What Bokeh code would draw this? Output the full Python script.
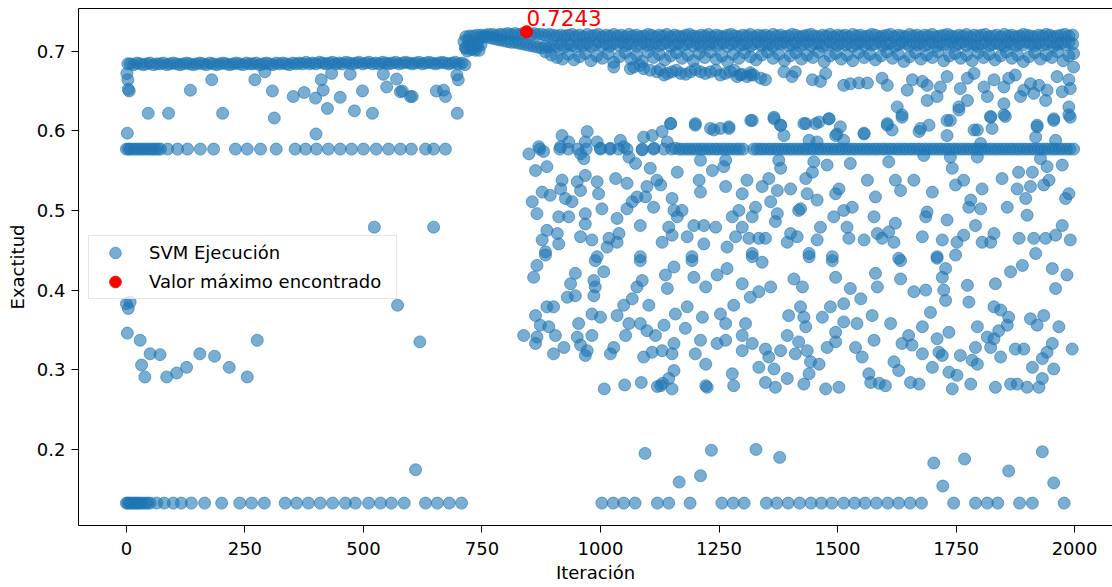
from bokeh.plotting import figure
from bokeh.models import ColumnDataSource, LinearAxis, FixedTicker, Legend, LegendItem
from bokeh.embed import file_html
from bokeh.resources import INLINE
from bokeh.core.properties import value

# ---------------- data ----------------
X_TICKS = [0, 250, 500, 750, 1000, 1250, 1500, 1750, 2000]
Y_TICKS = [0.2, 0.3, 0.4, 0.5, 0.6, 0.7]

MAX_ITER = 844
MAX_ACC = 0.7243

ROW_578 = 0.577
ROW_133 = 0.1326

# phase A (iterations 0-715): dense plateau near 0.684
A_BAND = [(3,0.684),(8,0.684),(15,0.683),(22,0.685),(29,0.684),(36,0.683),(43,0.684),(50,0.685),(57,0.683),(64,0.684),(71,0.684),
(78,0.685),(85,0.683),(92,0.684),(99,0.685),(106,0.684),(113,0.683),(120,0.684),(127,0.685),(134,0.684),(141,0.683),
(148,0.684),(155,0.685),(162,0.684),(169,0.683),(176,0.685),(183,0.684),(190,0.683),(197,0.684),(204,0.685),(211,0.684),
(218,0.683),(225,0.684),(232,0.685),(239,0.684),(246,0.683),(253,0.685),(260,0.684),(267,0.684),(274,0.685),(281,0.683),
(288,0.684),(295,0.685),(302,0.684),(309,0.683),(316,0.685),(323,0.684),(330,0.685),(337,0.684),(344,0.683),(351,0.685),
(358,0.684),(365,0.685),(372,0.684),(379,0.686),(386,0.684),(393,0.685),(400,0.684),(407,0.686),(414,0.685),(421,0.684),
(428,0.685),(435,0.686),(442,0.684),(449,0.685),(456,0.684),(463,0.686),(470,0.685),(477,0.684),(484,0.685),(491,0.686),
(498,0.684),(505,0.685),(512,0.686),(519,0.684),(526,0.685),(533,0.684),(540,0.686),(547,0.685),(554,0.684),(561,0.685),
(568,0.686),(575,0.684),(582,0.685),(589,0.686),(596,0.685),(603,0.684),(610,0.685),(617,0.686),(624,0.684),(631,0.685),
(638,0.686),(645,0.685),(652,0.684),(659,0.685),(666,0.686),(673,0.685),(680,0.684),(687,0.685),(694,0.686),(701,0.684),
(708,0.685),(714,0.683)]

A_SCATTER = [(0,0.383),(1,0.672),(2,0.597),(3,0.664),(4,0.652),(6,0.650),(4,0.377),(8,0.385),(2,0.346),(29,0.337),
(32,0.306),(39,0.291),(46,0.622),(50,0.320),(71,0.319),(85,0.291),(89,0.622),(106,0.296),(127,0.303),(135,0.651),
(155,0.320),(180,0.664),(186,0.317),(203,0.622),(217,0.303),(255,0.291),(271,0.664),(276,0.337),(292,0.674),(308,0.650),
(312,0.616),(352,0.643),(375,0.648),(399,0.641),(400,0.596),(411,0.664),(415,0.651),(424,0.628),(433,0.672),(451,0.642),
(472,0.671),(481,0.625),(498,0.650),(519,0.622),(523,0.479),(542,0.671),(549,0.655),(570,0.665),(572,0.381),(578,0.649),
(582,0.650),(599,0.643),(603,0.643),(610,0.1745),(619,0.335),(648,0.479),(654,0.650),(669,0.651),(673,0.643),(697,0.670),
(698,0.622),(700,0.664)]

A_ROW578_ITER = [0,4,8,13,19,24,30,35,40,46,51,56,61,67,72,87,108,129,156,184,230,255,283,316,356,378,401,426,451,475,
500,527,553,578,601,631,648,673]

A_ROW133_ITER = [0,3,6,10,14,18,22,26,30,35,40,45,50,64,80,99,116,137,165,201,239,264,291,335,359,384,409,435,462,483,
511,536,559,586,631,656,681,707]

# phase B (iterations 712-2000)
B_START = [(712,0.712),(715,0.704),(719,0.700),(722,0.714),(727,0.702),(731,0.709),(736,0.701),(740,0.706),(744,0.701),(748,0.708)]

B_BAND_ITER = [716,724,732,740,748,756,764,772,780,788,
796,804,812,820,828,836,844,852,860,868,
876,884,892,900,908,916,924,932,940,948,
956,964,972,980,988,996,1004,1012,1020,1028,
1036,1044,1052,1060,1068,1076,1084,1092,1100,1108,
1116,1124,1132,1140,1148,1156,1164,1172,1180,1188,
1196,1204,1212,1220,1228,1236,1244,1252,1260,1268,
1276,1284,1292,1300,1308,1316,1324,1332,1340,1348,
1356,1364,1372,1380,1388,1396,1404,1412,1420,1428,
1436,1444,1452,1460,1468,1476,1484,1492,1500,1508,
1516,1524,1532,1540,1548,1556,1564,1572,1580,1588,
1596,1604,1612,1620,1628,1636,1644,1652,1660,1668,
1676,1684,1692,1700,1708,1716,1724,1732,1740,1748,
1756,1764,1772,1780,1788,1796,1804,1812,1820,1828,
1836,1844,1852,1860,1868,1876,1884,1892,1900,1908,
1916,1924,1932,1940,1948,1956,1964,1972,1980,1988,
1996]

B_BAND_HI = [0.718,0.719,0.719,0.720,0.720,0.720,0.721,0.721,0.720,0.721,
0.721,0.722,0.721,0.722,0.721,0.722,0.722,0.721,0.722,0.721,
0.721,0.720,0.721,0.720,0.719,0.720,0.719,0.720,0.721,0.719,
0.720,0.718,0.721,0.719,0.720,0.721,0.718,0.720,0.719,0.721,
0.719,0.720,0.718,0.721,0.719,0.720,0.718,0.719,0.721,0.720,
0.718,0.720,0.719,0.721,0.718,0.720,0.719,0.718,0.720,0.721,
0.719,0.718,0.720,0.719,0.721,0.718,0.720,0.719,0.718,0.720,
0.721,0.719,0.718,0.720,0.719,0.721,0.718,0.720,0.719,0.720,
0.718,0.721,0.719,0.720,0.718,0.719,0.721,0.720,0.718,0.719,
0.720,0.721,0.719,0.718,0.720,0.719,0.721,0.718,0.720,0.719,
0.720,0.718,0.721,0.719,0.720,0.718,0.719,0.721,0.720,0.718,
0.719,0.720,0.721,0.718,0.720,0.719,0.718,0.721,0.719,0.720,
0.718,0.720,0.719,0.721,0.718,0.719,0.720,0.721,0.719,0.718,
0.720,0.719,0.721,0.718,0.720,0.719,0.720,0.721,0.718,0.719,
0.720,0.718,0.721,0.719,0.720,0.718,0.719,0.721,0.720,0.719,
0.718,0.720,0.719,0.721,0.720,0.718,0.719,0.720,0.721,0.719,
0.720]

B_BAND_LO = [0.704,0.708,0.703,0.709,0.717,0.718,0.717,0.716,0.715,0.714,
0.713,0.712,0.711,0.711,0.710,0.709,0.708,0.707,0.706,0.705,
0.704,0.706,0.705,0.707,0.706,0.708,0.705,0.709,0.707,0.706,
0.709,0.707,0.710,0.706,0.708,0.711,0.707,0.709,0.706,0.710,
0.708,0.711,0.707,0.709,0.710,0.706,0.709,0.711,0.707,0.708,
0.710,0.707,0.709,0.711,0.706,0.708,0.710,0.707,0.709,0.711,
0.707,0.709,0.706,0.710,0.708,0.711,0.707,0.709,0.710,0.706,
0.709,0.711,0.707,0.708,0.710,0.706,0.709,0.711,0.707,0.710,
0.708,0.706,0.710,0.709,0.711,0.707,0.708,0.710,0.706,0.709,
0.711,0.707,0.709,0.710,0.706,0.708,0.711,0.709,0.707,0.710,
0.708,0.710,0.706,0.709,0.711,0.707,0.710,0.708,0.709,0.711,
0.707,0.709,0.710,0.706,0.708,0.711,0.709,0.707,0.710,0.708,
0.710,0.707,0.709,0.711,0.706,0.710,0.708,0.709,0.711,0.707,
0.709,0.711,0.707,0.710,0.708,0.706,0.709,0.711,0.707,0.709,
0.710,0.708,0.706,0.711,0.709,0.707,0.710,0.708,0.711,0.709,
0.707,0.710,0.708,0.709,0.711,0.706,0.709,0.710,0.708,0.711,
0.709]

B_SUB = [(884,0.699),(896,0.695),(908,0.692),(920,0.690),(932,0.696),(944,0.689),(956,0.693),(968,0.697),(980,0.688),(992,0.694),
(1004,0.691),(1016,0.697),(1028,0.686),(1040,0.693),(1052,0.698),(1064,0.690),(1076,0.695),(1088,0.687),(1100,0.699),(1112,0.692),
(1124,0.696),(1136,0.689),(1148,0.694),(1160,0.698),(1172,0.691),(1184,0.695),(1196,0.688),(1208,0.697),(1220,0.692),(1232,0.699),
(1244,0.690),(1256,0.694),(1268,0.687),(1280,0.696),(1292,0.691),(1304,0.698),(1316,0.693),(1328,0.689),(1340,0.695),(1352,0.699),
(1364,0.691),(1376,0.696),(1388,0.688),(1400,0.694),(1412,0.698),(1424,0.690),(1436,0.695),(1448,0.692),(1460,0.699),(1472,0.687),
(1484,0.694),(1496,0.697),(1508,0.690),(1520,0.695),(1532,0.688),(1544,0.698),(1556,0.692),(1568,0.696),(1580,0.689),(1592,0.694),
(1604,0.699),(1616,0.691),(1628,0.696),(1640,0.687),(1652,0.693),(1664,0.698),(1676,0.690),(1688,0.695),(1700,0.692),(1712,0.699),
(1724,0.688),(1736,0.694),(1748,0.697),(1760,0.691),(1772,0.695),(1784,0.688),(1796,0.698),(1808,0.692),(1820,0.696),(1832,0.689),
(1844,0.694),(1856,0.699),(1868,0.691),(1880,0.695),(1892,0.687),(1904,0.693),(1916,0.698),(1928,0.690),(1940,0.695),(1952,0.692),
(1964,0.699),(1976,0.688),(1988,0.694),(1998,0.697)]

B_UPPER = [(1028,0.680),(1063,0.678),(1070,0.680),(1084,0.682),(1091,0.678),(1105,0.676),(1119,0.674),(1126,0.677),(1134,0.670),(1141,0.672),
(1151,0.674),(1160,0.676),(1169,0.672),(1180,0.671),(1190,0.674),(1200,0.677),(1211,0.674),(1221,0.672),(1232,0.674),(1243,0.676),
(1253,0.670),(1263,0.672),(1274,0.674),(1282,0.676),(1288,0.668),(1298,0.671),(1309,0.668),(1316,0.673),(1323,0.670),
(1148,0.609),(1200,0.607),(1232,0.603),(1253,0.603),(1271,0.605),
(1295,0.670),(1317,0.670),(1338,0.666),(1348,0.664),(1387,0.674),(1404,0.668),(1411,0.674),(1447,0.664),(1464,0.662),(1475,0.672),
(1513,0.657),(1527,0.659),(1545,0.660),(1563,0.660),(1594,0.666),(1605,0.657),(1647,0.651),(1658,0.664),(1679,0.662),(1689,0.657),
(1717,0.655),(1731,0.668),(1759,0.653),(1774,0.666),(1788,0.672),(1809,0.655),(1830,0.664),(1851,0.655),(1861,0.666),(1875,0.670),
(1893,0.651),(1907,0.659),(1925,0.657),(1942,0.651),(1963,0.668),(1974,0.649),(1991,0.653),(1998,0.680),(1988,0.664),
(1626,0.630),(1636,0.617),(1689,0.638),(1710,0.643),(1756,0.630),(1774,0.638),(1816,0.643),(1851,0.634),(1886,0.643),(1914,0.647),
(1939,0.638),(1988,0.630),(1991,0.617),(1320,0.613),(1366,0.617),(1380,0.607),(1429,0.609),(1454,0.609),(1482,0.615),(1499,0.596),
(1556,0.596),(1605,0.607),(1675,0.603),(1731,0.613),(1788,0.601),(1823,0.617),(1851,0.620),(1921,0.605),(1956,0.615)]

B_MID = [(849,0.571),(870,0.580),(880,0.574),(863,0.550),(887,0.555),(919,0.594),(916,0.580),(933,0.586),(972,0.599),(968,0.586),
(958,0.571),(965,0.565),(993,0.586),(1000,0.578),(1021,0.578),(1042,0.588),(1049,0.580),(1060,0.567),(1074,0.559),(1091,0.592),
(1109,0.594),(1088,0.576),(1113,0.578),(1130,0.599),(1148,0.609),(1141,0.586),(1158,0.578),(1105,0.553),(1162,0.548),
(919,0.538),(951,0.536),(968,0.544),(958,0.525),(993,0.536),(996,0.521),(1032,0.540),(1056,0.534),(1098,0.530),(1119,0.538),(1127,0.532),
(856,0.511),(866,0.496),(877,0.523),(894,0.519),(916,0.527),(926,0.515),(940,0.511),(912,0.492),(933,0.492),(968,0.496),
(968,0.483),(1003,0.502),(1035,0.490),(1067,0.511),(1077,0.517),(1095,0.517),(1056,0.502),(1084,0.481),(1112,0.504),(1151,0.515),
(1155,0.500),(1162,0.492),(887,0.475),(909,0.471),(877,0.463),(912,0.458),(884,0.448),(958,0.467),(982,0.463),(1018,0.465),
(1039,0.471),(1014,0.454),(1035,0.460),(993,0.442),(1084,0.442),(1130,0.460),(1144,0.479),(1151,0.469),
(884,0.444),(866,0.431),(859,0.416),(947,0.421),(937,0.408),(989,0.437),(1007,0.423),(986,0.412),(989,0.404),(986,0.393),
(930,0.391),(947,0.393),(1084,0.437),(1137,0.419),(1155,0.429),(1088,0.412),(1077,0.404),(1141,0.402),(1067,0.389),(1049,0.381),
(1102,0.381),(863,0.368),(887,0.379),(901,0.379),(873,0.356),(891,0.354),(838,0.343),(863,0.333),(866,0.341),(905,0.343),
(901,0.320),(923,0.328),(954,0.358),(982,0.370),(1000,0.366),(1035,0.368),(1060,0.358),(1084,0.358),(1098,0.349),(1116,0.343),
(1134,0.356),(1158,0.370),(951,0.341),(982,0.343),(958,0.331),(972,0.324),(968,0.318),(1053,0.343),(1028,0.328),(1021,0.320),
(1091,0.316),(1109,0.322),(1130,0.324),(1151,0.320),(1155,0.333),(1155,0.299),(1144,0.289),(1127,0.280),(1151,0.276),(1008,0.276),
(1051,0.281),(1086,0.284),(1120,0.279),(1131,0.283),(1222,0.280),(1588,0.283),
(1200,0.609),(1239,0.601),(1271,0.603),(1317,0.613),(1366,0.615),(1380,0.607),(1433,0.609),(1461,0.611),(1482,0.615),(1506,0.605),
(1496,0.594),(1556,0.597),(1387,0.594),(1440,0.588),(1457,0.586),(1513,0.588),
(1211,0.563),(1236,0.550),(1260,0.555),(1264,0.563),(1208,0.538),(1211,0.523),(1264,0.530),(1299,0.521),(1309,0.538),(1341,0.530),
(1355,0.540),(1373,0.525),(1380,0.553),(1376,0.563),(1401,0.527),(1433,0.540),(1450,0.561),(1447,0.548),(1478,0.557),(1527,0.559),
(1563,0.538),(1436,0.521),(1496,0.521),(1503,0.527),(1580,0.517),
(1172,0.500),(1197,0.481),(1218,0.481),(1243,0.479),(1183,0.467),(1218,0.458),(1193,0.442),(1278,0.492),(1292,0.500),(1299,0.479),
(1285,0.467),(1327,0.504),(1320,0.492),(1313,0.465),(1334,0.465),(1348,0.465),(1359,0.511),(1373,0.496),(1369,0.486),(1401,0.471),
(1394,0.460),(1418,0.500),(1422,0.502),(1415,0.467),(1457,0.513),(1464,0.479),(1457,0.463),(1492,0.492),(1513,0.500),(1531,0.504),
(1520,0.479),(1524,0.465),(1556,0.463),(1577,0.492),(1584,0.471),(1267,0.454),(1320,0.446),(1440,0.446),(1489,0.442),
(1193,0.437),(1197,0.416),(1222,0.404),(1246,0.419),(1267,0.427),(1320,0.442),(1341,0.435),(1299,0.408),(1316,0.391),(1334,0.398),
(1359,0.404),(1408,0.414),(1426,0.404),(1440,0.442),(1489,0.437),(1496,0.416),(1527,0.402),(1549,0.389),(1580,0.421),(1584,0.404),
(1183,0.379),(1215,0.366),(1253,0.370),(1264,0.358),(1281,0.381),(1306,0.358),(1397,0.368),(1422,0.379),(1429,0.366),(1433,0.354),
(1468,0.366),(1485,0.379),(1513,0.383),(1513,0.360),(1496,0.347),(1541,0.358),(1573,0.368),
(1179,0.352),(1211,0.337),(1200,0.320),(1246,0.333),(1264,0.337),(1299,0.343),(1299,0.324),(1320,0.333),(1348,0.326),(1355,0.316),
(1380,0.324),(1394,0.343),(1418,0.335),(1411,0.320),(1436,0.324),(1443,0.310),(1461,0.307),(1478,0.328),(1496,0.335),(1538,0.328),
(1552,0.316),(1577,0.337),(1222,0.307),(1278,0.295),(1281,0.280),(1334,0.303),(1366,0.301),(1348,0.284),(1369,0.278),(1394,0.289),
(1440,0.295),(1429,0.282),(1475,0.276),(1503,0.278),(1566,0.295),(1570,0.284),(1225,0.278),
(1605,0.609),(1615,0.601),(1636,0.620),(1672,0.599),(1693,0.607),(1731,0.594),(1738,0.613),(1756,0.626),(1795,0.601),(1826,0.603),
(1823,0.618),(1854,0.618),(1921,0.607),(1918,0.592),(1956,0.613),(1988,0.620),(1960,0.588),
(1608,0.561),(1682,0.569),(1738,0.567),(1742,0.553),(1795,0.567),(1802,0.584),(1928,0.565),(1942,0.555),(1974,0.557),(1882,0.548),
(1911,0.548),(1946,0.538),(1622,0.538),(1661,0.538),(1633,0.525),(1700,0.523),(1749,0.532),(1766,0.538),(1805,0.527),(1847,0.540),
(1879,0.527),(1907,0.530),(1897,0.515),(1988,0.521),(1981,0.515),(1781,0.513),(1777,0.504),(1802,0.502),(1858,0.504),(1689,0.498),
(1686,0.492),(1731,0.488),(1766,0.469),(1791,0.481),(1830,0.471),(1805,0.460),(1752,0.460),(1721,0.463),(1679,0.467),(1622,0.484),
(1608,0.473),(1619,0.460),(1594,0.465),(1900,0.494),(1883,0.465),(1914,0.465),(1939,0.465),(1974,0.481),(1960,0.469),(1991,0.463),
(1629,0.440),(1710,0.442),(1918,0.446),(1935,0.532),(1823,0.460),
(1633,0.437),(1633,0.414),(1710,0.440),(1728,0.427),(1721,0.416),(1749,0.444),(1774,0.406),(1833,0.408),(1865,0.423),(1890,0.431),
(1953,0.427),(1984,0.419),(1960,0.402),(1661,0.398),(1686,0.400),(1724,0.400),(1728,0.387),(1777,0.385),(1696,0.372),(1830,0.379),
(1844,0.375),(1861,0.366),(1858,0.356),(1840,0.349),(1907,0.364),(1935,0.368),(1921,0.356),(1967,0.354),
(1612,0.358),(1679,0.354),(1735,0.347),(1650,0.343),(1636,0.333),(1657,0.331),(1710,0.339),(1714,0.322),(1721,0.318),(1679,0.320),
(1795,0.354),(1816,0.341),(1830,0.339),(1791,0.328),(1823,0.328),(1759,0.318),(1784,0.312),(1795,0.307),(1844,0.316),(1875,0.326),
(1893,0.326),(1953,0.333),(1942,0.322),(1932,0.314),(1995,0.326),(1956,0.301),(1911,0.303),(1932,0.289),(1619,0.310),(1629,0.299),
(1700,0.303),(1735,0.297),(1752,0.293),(1781,0.282),(1742,0.276),(1654,0.284),(1672,0.282),(1601,0.280),(1833,0.278),(1865,0.282),
(1879,0.282),(1900,0.278),(1925,0.278)]

B_ROW578_ITER = [872,914,932,952,970,1000,1020,1038,1056,1088,1112,1134,1150,
1166,1173,1181,1188,1196,1203,1211,1218,1226,1233,1241,1248,1256,1263,1271,1278,1286,1293,1301,
1323,1330,1338,1345,1353,1360,1368,1375,1383,1390,1398,1405,1413,1420,1428,1435,1443,1450,1458,1465,
1473,1480,1488,1495,1503,1510,1518,1525,1533,1540,1548,1555,1563,1570,1578,1585,1593,1600,1608,1615,
1623,1630,1638,1645,1653,1660,1668,1675,1683,1690,1698,1705,1713,1720,1728,1735,1743,1750,1758,1765,
1773,1780,1788,1795,1803,1810,1818,1825,1833,1840,1848,1855,1863,1870,1878,1885,1893,1900,1908,1915,
1923,1930,1938,1945,1953,1960,1968,1975,1983,1990,1998]

B_ROW133_ITER = [1003,1027,1049,1073,1120,1144,1189,1256,1280,1303,1350,1372,1396,1420,1444,1466,1488,1513,1536,1558,
1582,1606,1629,1653,1677,1745,1791,1816,1838,1884,1911,1978]

B_LOW = [(1094,0.195),(1234,0.199),(1328,0.200),(1378,0.190),(1211,0.167),(1166,0.159),(1703,0.183),(1722,0.154),
(1768,0.188),(1861,0.173),(1932,0.197),(1956,0.158)]

# ---------------- assemble ----------------
xs, ys = [], []


def add_pairs(pairs):
    for it, acc in pairs:
        xs.append(it)
        ys.append(acc)


def add_row(iters, acc):
    for it in iters:
        xs.append(it)
        ys.append(acc)


add_pairs(A_BAND)
add_pairs(A_SCATTER)
add_row(A_ROW578_ITER, ROW_578)
add_row(A_ROW133_ITER, ROW_133)
add_pairs(B_START)
n = min(len(B_BAND_ITER), len(B_BAND_HI), len(B_BAND_LO))
for i in range(n):
    xs.append(B_BAND_ITER[i]); ys.append(B_BAND_HI[i])
    xs.append(B_BAND_ITER[i]); ys.append(B_BAND_LO[i])
add_pairs(B_SUB)
add_pairs(B_UPPER)
add_pairs(B_MID)
add_row(B_ROW578_ITER, ROW_578)
add_row(B_ROW133_ITER, ROW_133)
add_pairs(B_LOW)

src = ColumnDataSource(dict(x=xs, y=ys))
max_src = ColumnDataSource(dict(x=[MAX_ITER], y=[MAX_ACC], label=[f"{MAX_ACC:.4f}"]))

FONT = "DejaVu Sans"
FS = "18px"
BLUE = "#1f77b4"

p = figure(width=1112, height=587, x_range=(-101, 2080), y_range=(0.1045, 0.7535),
           output_backend="svg", toolbar_location=None,
           min_border_left=78, min_border_right=0, min_border_top=8, min_border_bottom=62)
p.outline_line_color = None
p.xgrid.visible = False
p.ygrid.visible = False
p.background_fill_color = "white"
p.border_fill_color = "white"

r_main = p.scatter("x", "y", source=src, size=12, marker="circle",
                   fill_color=BLUE, fill_alpha=0.6, line_color=BLUE, line_alpha=0.6, line_width=1)
r_max = p.scatter("x", "y", source=max_src, size=12, marker="circle",
                  fill_color="red", line_color="red", line_width=1)
p.text("x", "y", text="label", source=max_src, text_color="red", text_font=value(FONT),
       text_font_size="21.5px", text_align="left", text_baseline="alphabetic", y_offset=-14)

xa = p.xaxis[0]
ya = p.yaxis[0]
xa.ticker = FixedTicker(ticks=X_TICKS)
ya.ticker = FixedTicker(ticks=Y_TICKS)
xa.axis_label = "Iteración"
ya.axis_label = "Exactitud"
for ax in (xa, ya):
    ax.axis_line_color = "black"
    ax.axis_line_width = 1
    ax.major_tick_line_color = "black"
    ax.major_tick_out = 7
    ax.major_tick_in = 0
    ax.minor_tick_line_color = None
    ax.major_label_text_font = FONT
    ax.major_label_text_font_size = FS
    ax.major_label_text_color = "black"
    ax.axis_label_text_font = FONT
    ax.axis_label_text_font_size = FS
    ax.axis_label_text_font_style = "normal"
    ax.axis_label_text_color = "black"
xa.major_label_standoff = 9
xa.axis_label_standoff = 4
ya.major_label_standoff = 6
ya.axis_label_standoff = 6

top = LinearAxis(ticker=FixedTicker(ticks=[]), axis_line_color="black", axis_line_width=1,
                 major_tick_line_color=None, minor_tick_line_color=None,
                 major_tick_out=0, major_tick_in=0, major_label_standoff=0,
                 major_label_text_font_size="0px")
p.add_layout(top, "above")

legend = Legend(items=[LegendItem(label="SVM Ejecución", renderers=[r_main]),
                       LegendItem(label="Valor máximo encontrado", renderers=[r_max])],
                location=(10, 226), padding=2, spacing=0, margin=0,
                glyph_width=48, glyph_height=29, label_height=29, label_width=245, label_standoff=10,
                label_text_font=FONT, label_text_font_size=FS, label_text_color="black",
                border_line_color="#cccccc", border_line_width=1,
                background_fill_color="white", background_fill_alpha=0.8)
p.add_layout(legend)

with open("out.html", "w", encoding="utf-8") as f:
    f.write(file_html(p, INLINE, title="SVM"))
